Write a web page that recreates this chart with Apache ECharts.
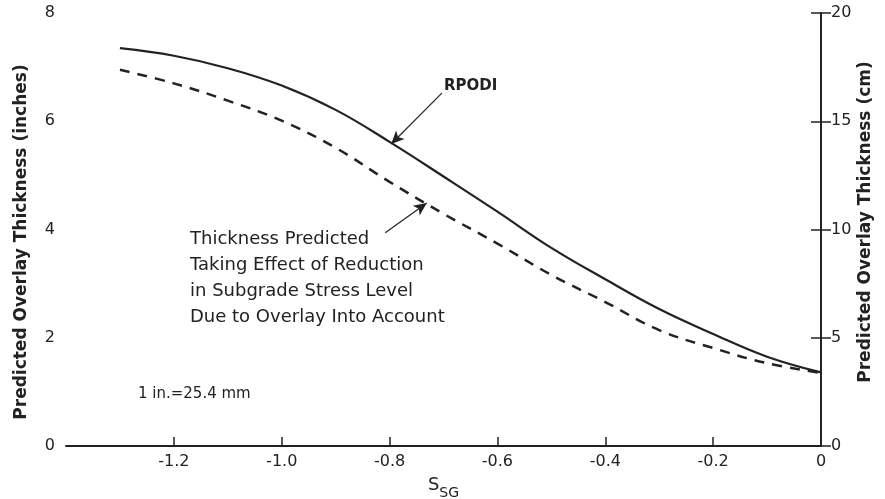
<!DOCTYPE html>
<html>
<head>
<meta charset="utf-8">
<script src="https://cdn.jsdelivr.net/npm/echarts@6/dist/echarts.min.js"></script>
<style>html,body{margin:0;padding:0;background:#fff}#c{width:885px;height:499px}</style>
</head>
<body>
<div id="c"></div>
<script>
// Data
const xValues = [-1.3, -1.2, -1.1, -1.0, -0.9, -0.8, -0.7, -0.6, -0.5, -0.4, -0.3, -0.2, -0.1, 0];
const rpodiInches = [7.35, 7.21, 6.98, 6.66, 6.21, 5.62, 4.98, 4.33, 3.66, 3.08, 2.53, 2.07, 1.65, 1.36];
const reducedInches = [6.95, 6.70, 6.38, 6.01, 5.51, 4.88, 4.29, 3.74, 3.16, 2.66, 2.14, 1.81, 1.53, 1.35];
const xTicks = [-1.2, -1.0, -0.8, -0.6, -0.4, -0.2, 0];
const leftTicks = [0, 2, 4, 6, 8];
const rightTicks = [0, 5, 10, 15, 20];

const FONT = '"DejaVu Sans", sans-serif';
const INK = '#222';

const chart = echarts.init(document.getElementById('c'));
const pairs = a => xValues.map((x, i) => [x, a[i]]);

chart.setOption({
  animation: false,
  backgroundColor: '#fff',
  grid: { left: 66, right: 64, top: 13, bottom: 53, outerBoundsMode: 'none', containLabel: false },
  xAxis: {
    type: 'value', min: -1.4, max: 0, interval: 0.2,
    axisLine: { lineStyle: { color: INK, width: 2 } },
    axisTick: { inside: true, length: 9, customValues: xTicks, lineStyle: { color: INK, width: 1.5 } },
    splitLine: { show: false },
    axisLabel: {
      color: INK, fontFamily: FONT, fontSize: 16, margin: 8, customValues: xTicks,
      formatter: v => {
        const r = Math.round(v * 10) / 10;
        return r === 0 ? '0' : r.toFixed(1);
      }
    },
    name: '{s|S}{sub|SG}', nameLocation: 'middle', nameGap: 30,
    nameTextStyle: {
      rich: {
        s: { fontFamily: FONT, fontSize: 18, color: INK, padding: [0, 0, 6, 0] },
        sub: { fontFamily: FONT, fontSize: 14, color: INK, verticalAlign: 'bottom', padding: [6, 0, 0, 0] }
      }
    }
  },
  yAxis: [
    {
      type: 'value', min: 0, max: 8, interval: 2, position: 'left',
      axisLine: { show: true, lineStyle: { color: INK, width: 2 } },
      axisTick: { show: true, inside: true, length: 10, customValues: leftTicks, lineStyle: { color: INK, width: 1.5 } },
      splitLine: { show: false },
      axisLabel: { color: INK, fontFamily: FONT, fontSize: 16, margin: 11, customValues: leftTicks,
        formatter: v => String(v) }
    },
    {
      type: 'value', min: 0, max: 20, interval: 5, position: 'right',
      axisLine: { show: true, lineStyle: { color: INK, width: 2 } },
      axisTick: { show: true, inside: true, length: 10, customValues: rightTicks, lineStyle: { color: INK, width: 1.5 } },
      splitLine: { show: false },
      axisLabel: { color: INK, fontFamily: FONT, fontSize: 16, margin: 10, customValues: rightTicks,
        formatter: v => String(v) }
    }
  ],
  series: [
    {
      name: 'RPODI', type: 'line', smooth: 0.4, showSymbol: false, yAxisIndex: 0,
      data: pairs(rpodiInches),
      lineStyle: { color: INK, width: 2.2 },
      markLine: {
        silent: true, symbol: ['none', 'arrow'], symbolSize: [9, 13],
        lineStyle: { color: INK, width: 1.2, type: 'solid' },
        label: { show: false },
        data: [[{ coord: [-0.703, 6.52] }, { coord: [-0.797, 5.58] }]]
      }
    },
    {
      name: 'Reduced', type: 'line', smooth: 0.4, showSymbol: false, yAxisIndex: 0,
      data: pairs(reducedInches),
      lineStyle: { color: INK, width: 2.5, type: [10, 8] },
      markLine: {
        silent: true, symbol: ['none', 'arrow'], symbolSize: [9, 13],
        lineStyle: { color: INK, width: 1.2, type: 'solid' },
        label: { show: false },
        data: [[{ coord: [-0.808, 3.94] }, { coord: [-0.731, 4.49] }]]
      }
    }
  ],
  graphic: [
    { type: 'text', x: 22, y: 242, rotation: Math.PI / 2,
      style: { text: 'Predicted Overlay Thickness (inches)', font: 'bold 17px ' + FONT, fill: INK, align: 'center', verticalAlign: 'middle' } },
    { type: 'text', x: 866, y: 222, rotation: Math.PI / 2,
      style: { text: 'Predicted Overlay Thickness (cm)', font: 'bold 17px ' + FONT, fill: INK, align: 'center', verticalAlign: 'middle' } },
    { type: 'text', left: 444, top: 79, style: { text: 'RPODI', font: 'bold 15px ' + FONT, fill: INK } },
    { type: 'text', left: 190, top: 226,
      style: { text: 'Thickness Predicted\nTaking Effect of Reduction\nin Subgrade Stress Level\nDue to Overlay Into Account',
        font: '18px ' + FONT, fill: INK, lineHeight: 26 } },
    { type: 'text', left: 138, top: 387, style: { text: '1 in.=25.4 mm', font: '15px ' + FONT, fill: INK } }
  ]
});
</script>
</body>
</html>
